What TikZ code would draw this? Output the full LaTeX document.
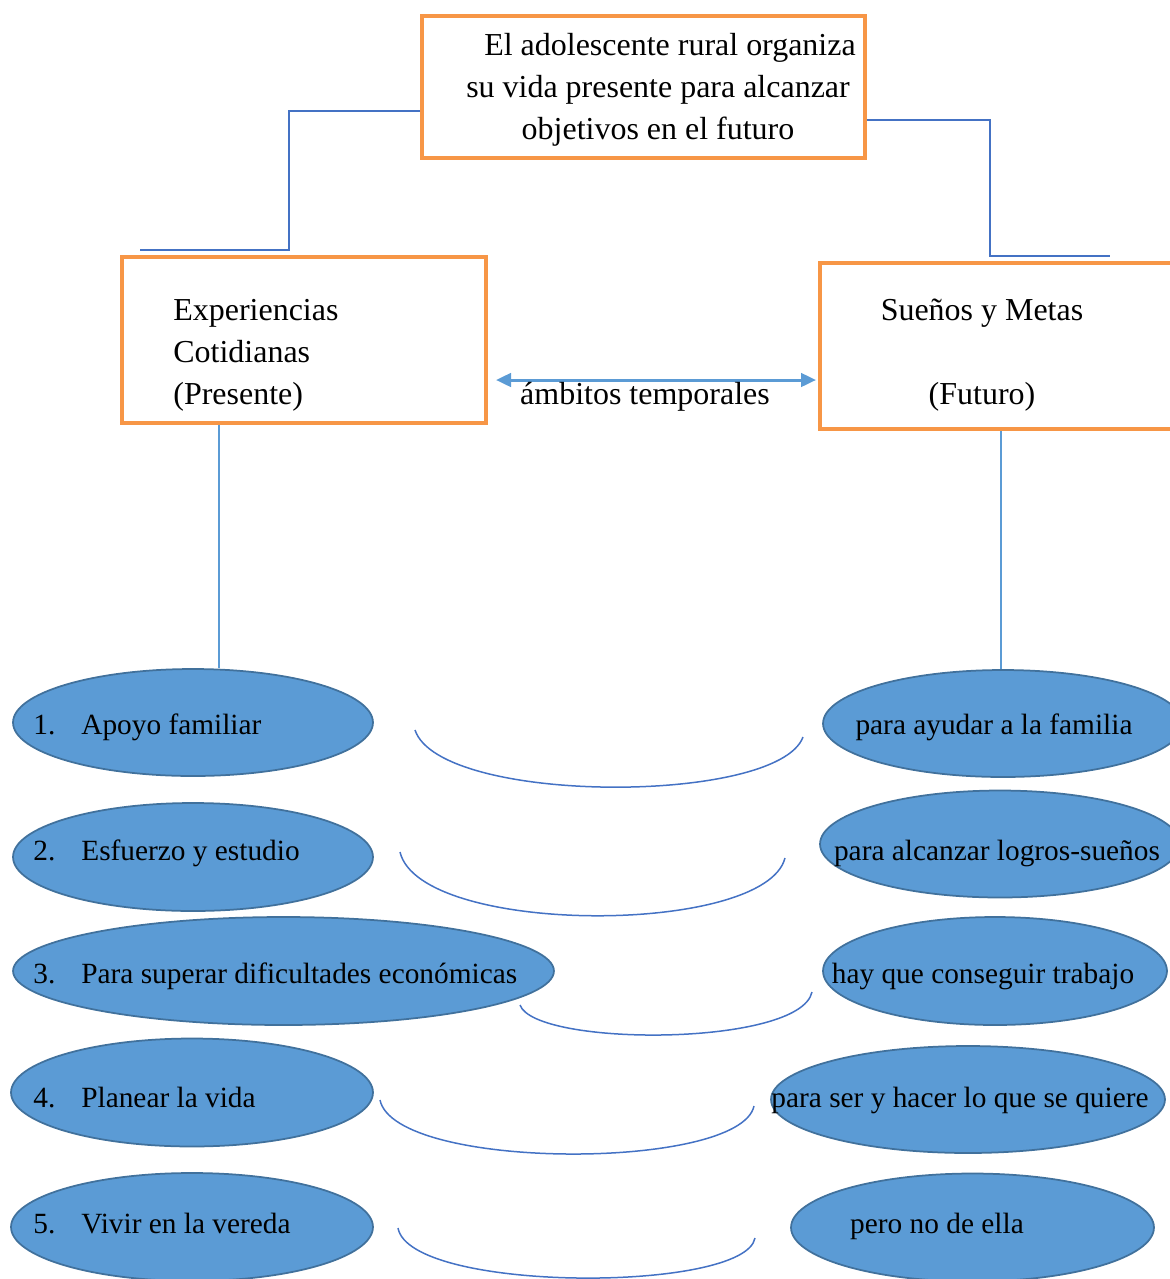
\documentclass[tikz,border=0pt]{standalone}
\usepackage{fontspec}
\setmainfont{Liberation Serif}
\usetikzlibrary{arrows.meta, shapes.geometric, positioning}
\definecolor{boxorange}{RGB}{247,150,70}
\definecolor{ovalblue}{RGB}{91,155,213}
\definecolor{ovaledge}{RGB}{65,113,156}
\definecolor{linkblue}{RGB}{68,114,196}

\begin{document}
\begin{tikzpicture}[
		x=0.02cm, y=-0.02cm,
		font=\fontsize{18.2}{24}\selectfont,
		box/.style={draw=boxorange, line width=0.08cm, rectangle, inner sep=0pt},
		oval/.style={ellipse, draw=ovaledge, fill=ovalblue, line width=0.035cm, inner sep=0pt},
		txt/.style={inner sep=0pt, text=black},
		ovtxt/.style={inner sep=0pt, text=black, font=\fontsize{16.7}{22}\selectfont},
		link/.style={draw=linkblue, line width=0.03cm},
		vlink/.style={draw=ovalblue, line width=0.035cm},
		swing/.style={draw=linkblue, line width=0.03cm}
	]

	\useasboundingbox (0,0) rectangle (1170,1279);
	\clip (0,0) rectangle (1170,1279);

	%% 1. Boxes
	\node[box, minimum width=8.86cm, minimum height=2.84cm] (top) at (643.5,87) {};
	\node[txt, align=center] (toptxt) at (658,90)
		{\hspace*{0.48cm}El adolescente rural organiza\\su vida presente para alcanzar\\objetivos en el futuro};

	\node[box, minimum width=7.28cm, minimum height=3.32cm] (lbox) at (304,340) {};
	\node[txt, align=left, anchor=west] (ltxt) at (173,355)
		{Experiencias\\Cotidianas\\(Presente)};

	\node[box, minimum width=7.4cm, minimum height=3.32cm] (rbox) at (1005,346) {};
	\node[txt, align=center] (rtxt) at (982,355)
		{Sueños y Metas\\[24pt](Futuro)};

	%% Links from the top box
	\coordinate (lcorner) at (289,250);
	\coordinate (lend) at (140,250);
	\draw[link] (top.west |- 0,111) -| (lcorner) -- (lend);
	\coordinate (rcorner) at (990,256);
	\coordinate (rend) at (1110,256);
	\draw[link] (top.east |- 0,120) -| (rcorner) -- (rend);

	%% Double arrow between the two boxes
	\coordinate (aleft) at (496,380);
	\coordinate (aright) at (816,380);
	\draw[{Triangle[length=0.3cm,width=0.27cm]}-{Triangle[length=0.3cm,width=0.27cm]},
		draw=ovalblue, line width=0.06cm] (aleft) -- (aright);
	\node[txt, anchor=base] (ambitos) at (645,404) {ámbitos temporales};

	%% 2. Ovals, left column
	\node[oval, minimum width=7.2cm,  minimum height=2.14cm] (e1l) at (193,722.5) {};
	\node[oval, minimum width=7.2cm,  minimum height=2.16cm] (e2l) at (193,857) {};
	\node[oval, minimum width=10.82cm, minimum height=2.16cm] (e3l) at (283.5,971) {};
	\node[oval, minimum width=7.24cm, minimum height=2.16cm] (e4l) at (192,1092.5) {};
	\node[oval, minimum width=7.24cm, minimum height=2.16cm] (e5l) at (192,1227) {};

	\node[ovtxt, anchor=base west] (t1l) at (33,734) {\makebox[0.96cm][l]{1.}Apoyo familiar};
	\node[ovtxt, anchor=base west] (t2l) at (33,860) {\makebox[0.96cm][l]{2.}Esfuerzo y estudio};
	\node[ovtxt, anchor=base west] (t3l) at (33,983) {\makebox[0.96cm][l]{3.}Para superar dificultades económicas};
	\node[ovtxt, anchor=base west] (t4l) at (33,1107) {\makebox[0.96cm][l]{4.}Planear la vida};
	\node[ovtxt, anchor=base west] (t5l) at (33,1233) {\makebox[0.96cm][l]{5.}Vivir en la vereda};

	%% 3. Ovals, right column
	\node[oval, minimum width=7.2cm,  minimum height=2.14cm] (e1r) at (1003,723.5) {};
	\node[oval, minimum width=7.2cm,  minimum height=2.14cm] (e2r) at (1000,844) {};
	\node[oval, minimum width=6.88cm, minimum height=2.16cm] (e3r) at (995,971) {};
	\node[oval, minimum width=7.88cm, minimum height=2.14cm] (e4r) at (968,1099.5) {};
	\node[oval, minimum width=7.26cm, minimum height=2.16cm] (e5r) at (972.5,1227.5) {};

	\node[ovtxt, anchor=base] (t1r) at (994,734) {para ayudar a la familia};
	\node[ovtxt, anchor=base] (t2r) at (997,860) {para alcanzar logros-sueños};
	\node[ovtxt, anchor=base] (t3r) at (983,983) {hay que conseguir trabajo};
	\node[ovtxt, anchor=base] (t4r) at (960,1107) {para ser y hacer lo que se quiere};
	\node[ovtxt, anchor=base] (t5r) at (937,1233) {pero no de ella};

	%% Vertical links down to the first ovals
	\draw[vlink] (lbox.south -| 219,0) -- (e1l.north -| 219,0);
	\draw[vlink] (rbox.south -| 1001,0) -- (e1r.north -| 1001,0);

	%% 4. Swings between the columns
	\draw[swing] (415,730) .. controls (440,805) and (778,805) .. (803,737);
	\draw[swing] (400,852) .. controls (420,936) and (765,936) .. (785,858);
	\draw[swing] (520,1005) .. controls (535,1047) and (800,1047) .. (812,992);
	\draw[swing] (380,1100) .. controls (395,1171) and (740,1171) .. (754,1106);
	\draw[swing] (398,1228) .. controls (410,1293) and (745,1293) .. (755,1238);

\end{tikzpicture}
\end{document}
